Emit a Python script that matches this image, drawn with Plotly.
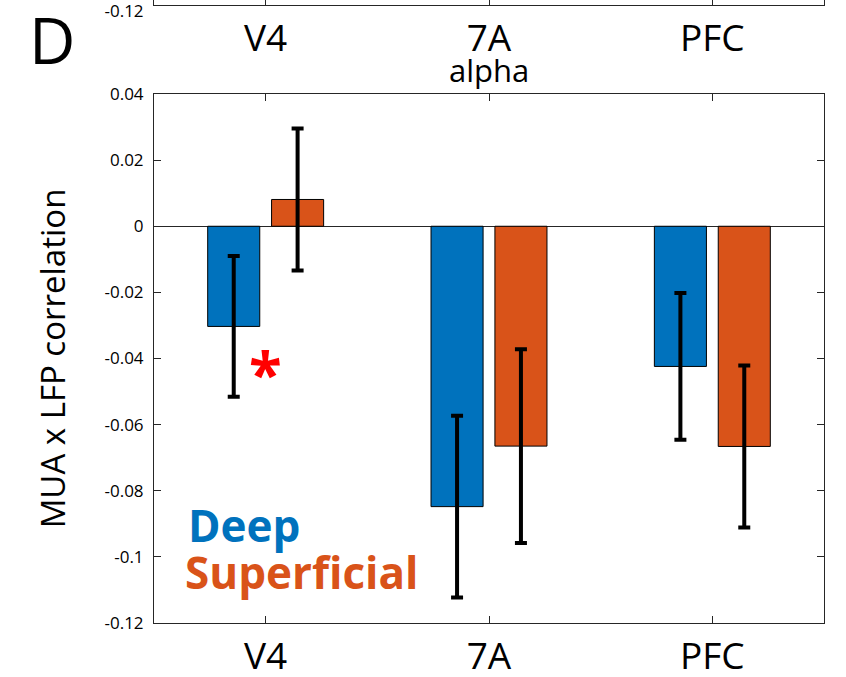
import plotly.graph_objects as go

# Areas and per-layer MUA x LFP correlation (alpha band), mean and error
areas = ["V4", "7A", "PFC"]
deep_mean = [-0.0303, -0.0848, -0.0424]
deep_err = [0.0213, 0.0275, 0.0222]
sup_mean = [0.0081, -0.0665, -0.0666]
sup_err = [0.0215, 0.0293, 0.0245]

# significance marker (area, y position)
star_area = "V4"
star_y = -0.0424

BLUE = "#0072BD"
ORANGE = "#D95319"
AXC = "#262626"
FONT = "Open Sans"

W, H = 846, 677
ML, MR, MT, MB = 154, 22, 0, 54
plot_h = H - MT - MB
main_top = (plot_h - 94) / plot_h
prev_bottom = (plot_h - 5) / plot_h

fig = go.Figure()

fig.add_trace(go.Bar(
    x=areas, y=deep_mean, name="Deep",
    marker=dict(color=BLUE, line=dict(color="black", width=1)),
    error_y=dict(type="data", array=deep_err, color="black", thickness=4, width=6),
))
fig.add_trace(go.Bar(
    x=areas, y=sup_mean, name="Superficial",
    marker=dict(color=ORANGE, line=dict(color="black", width=1)),
    error_y=dict(type="data", array=sup_err, color="black", thickness=4, width=6),
))

# bottom edge of the preceding panel (shares the same categories)
fig.add_trace(go.Scatter(
    x=areas, y=[None, None, None], xaxis="x2", yaxis="y2",
    showlegend=False, hoverinfo="skip",
))

axis_common = dict(
    showline=True, linecolor=AXC, linewidth=1,
    ticks="inside", tickcolor=AXC, ticklen=7, tickwidth=1,
    showgrid=False, automargin=False,
)

fig.update_layout(
    width=W, height=H,
    margin=dict(l=ML, r=MR, t=MT, b=MB, autoexpand=False),
    paper_bgcolor="white", plot_bgcolor="white",
    barmode="group", bargap=0.428, bargroupgap=0.185,
    showlegend=False,
    font=dict(family=FONT, color="black"),
    xaxis=dict(
        **axis_common, mirror="ticks",
        type="category", range=[-0.5, 2.5],
        tickfont=dict(size=37, family=FONT, color="black"),
        ticklabelstandoff=1,
        anchor="y",
    ),
    yaxis=dict(
        **axis_common, mirror="ticks",
        domain=[0, main_top],
        range=[-0.12, 0.04],
        tickvals=[-0.12, -0.1, -0.08, -0.06, -0.04, -0.02, 0, 0.02, 0.04],
        ticktext=["-0.12", "-0.1", "-0.08", "-0.06", "-0.04", "-0.02", "0", "0.02", "0.04"],
        tickfont=dict(size=17, family=FONT, color="black"),
        ticklabelstandoff=6,
        zeroline=True, zerolinecolor=AXC, zerolinewidth=1,
        title=dict(text="MUA x LFP correlation",
                   font=dict(size=33, family=FONT, color="black"),
                   standoff=28),
    ),
    xaxis2=dict(
        **axis_common, mirror=False,
        type="category", range=[-0.5, 2.5],
        tickfont=dict(size=37, family=FONT, color="black"),
        ticklabelstandoff=1,
        anchor="y2",
    ),
    yaxis2=dict(
        **axis_common, mirror="ticks",
        domain=[prev_bottom, 1],
        range=[-0.1202, -0.119],
        tickvals=[-0.12], ticktext=["-0.12"],
        tickfont=dict(size=17, family=FONT, color="black"),
        ticklabelstandoff=6,
        ticklabeloverflow="allow",
        ticklabelshift=7,
        zeroline=False,
        anchor="x2",
    ),
)

# significance asterisk
fig.add_annotation(text="<b>*</b>", xref="x", yref="y", x=star_area, y=star_y,
                   xanchor="center", yanchor="middle", yshift=-7,
                   showarrow=False, font=dict(size=60, family=FONT, color="#FF0000"))

# panel letter, band title and colour-coded layer key
fig.add_annotation(text="D", xref="paper", yref="paper",
                   x=-0.19, y=(plot_h - 40) / plot_h, xanchor="left", yanchor="middle",
                   showarrow=False, font=dict(size=64, family=FONT, color="black"))
fig.add_annotation(text="alpha", xref="x", yref="paper",
                   x=1, y=(plot_h - 70) / plot_h, xanchor="center", yanchor="middle",
                   showarrow=False, font=dict(size=31, family=FONT, color="black"))
fig.add_annotation(text="<b>Deep</b>", xref="x", yref="y",
                   x=-0.355, y=-0.0905, xanchor="left", yanchor="middle",
                   showarrow=False, font=dict(size=44, family=FONT, color=BLUE))
fig.add_annotation(text="<b>Superficial</b>", xref="x", yref="y",
                   x=-0.37, y=-0.1045, xanchor="left", yanchor="middle",
                   showarrow=False, font=dict(size=44, family=FONT, color=ORANGE))

fig.write_html("out.html")
